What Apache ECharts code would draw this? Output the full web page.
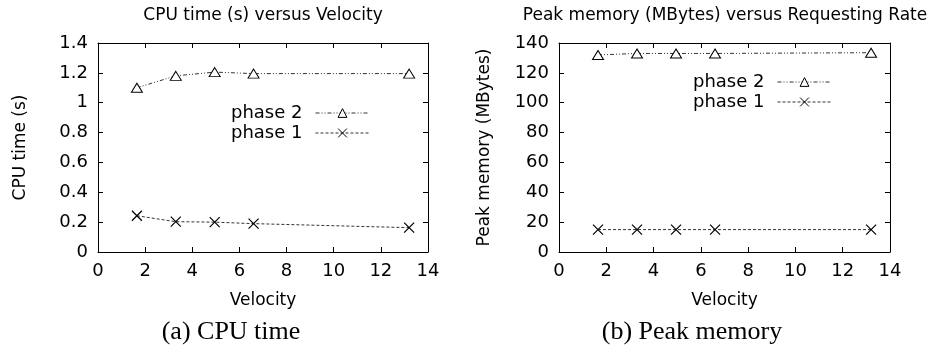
<!DOCTYPE html>
<html><head><meta charset="utf-8">
<script src="https://cdn.jsdelivr.net/npm/echarts@6/dist/echarts.min.js"></script>
<style>html,body{margin:0;padding:0;background:#fff}#c{width:931px;height:347px}</style>
</head><body><div id="c"></div>
<script>
const velocity = [1.65, 3.3, 4.95, 6.6, 13.2];
const cpuPhase2 = [1.10, 1.18, 1.205, 1.195, 1.195];
const cpuPhase1 = [0.243, 0.203, 0.200, 0.190, 0.163];
const memPhase2 = [132, 133, 133, 133, 133.5];
const memPhase1 = [15, 15, 15, 15, 15];
const seriesNames = ['phase 2', 'phase 1'];
const titles = ['CPU time (s) versus Velocity', 'Peak memory (MBytes) versus Requesting Rate'];
const captions = ['(a) CPU time', '(b) Peak memory'];
const xName = 'Velocity';
const yNames = ['CPU time (s)', 'Peak memory (MBytes)'];

const SANS = 'DejaVu Sans';
const FS = 18;
const FN = 17;
const xMark = 'path://M0 0L10 10M10 0L0 10';

function pairs(xs, ys){ return xs.map((x,i)=>[x, ys[i]]); }

function xAxes(g){
  return [
    {type:'value', gridIndex:g, min:0, max:14, interval:2, position:'bottom',
     name:xName, nameLocation:'middle', nameGap:40, nameTextStyle:{fontFamily:SANS,fontSize:FN,color:'#000'},
     axisLine:{show:true,lineStyle:{color:'#000',width:1}}, axisTick:{inside:true,length:5,lineStyle:{color:'#000'}},
     axisLabel:{fontFamily:SANS,fontSize:FS,color:'#000',margin:10}, splitLine:{show:false}},
    {type:'value', gridIndex:g, min:0, max:14, interval:2, position:'top',
     axisLine:{show:true,onZero:false,lineStyle:{color:'#000',width:1}}, axisTick:{inside:true,length:5,lineStyle:{color:'#000'}},
     axisLabel:{show:false}, splitLine:{show:false}}
  ];
}
function yAxes(g, max, interval, name, gap){
  return [
    {type:'value', gridIndex:g, min:0, max:max, interval:interval, position:'left',
     name:name, nameLocation:'middle', nameGap:gap, nameTextStyle:{fontFamily:SANS,fontSize:FN,color:'#000'},
     axisLine:{show:true,lineStyle:{color:'#000',width:1}}, axisTick:{show:true,inside:true,length:5,lineStyle:{color:'#000'}},
     axisLabel:{fontFamily:SANS,fontSize:FS,color:'#000',margin:10}, splitLine:{show:false}},
    {type:'value', gridIndex:g, min:0, max:max, interval:interval, position:'right',
     axisLine:{show:true,onZero:false,lineStyle:{color:'#000',width:1}}, axisTick:{show:true,inside:true,length:5,lineStyle:{color:'#000'}},
     axisLabel:{show:false}, splitLine:{show:false}}
  ];
}
function p2(name, xi, yi, data){
  return {type:'line', name:name, xAxisIndex:xi, yAxisIndex:yi, data:data,
    symbol:'triangle', symbolSize:[11,9],
    itemStyle:{color:'#fff', borderColor:'#000', borderWidth:1},
    lineStyle:{color:'#333', width:1, type:[4,2,1,2,1,2]}, animation:false};
}
function p1(name, xi, yi, data){
  return {type:'line', name:name, xAxisIndex:xi, yAxisIndex:yi, data:data,
    symbol:xMark, symbolSize:10, symbolKeepAspect:true,
    itemStyle:{color:'#000', borderColor:'#000', borderWidth:1.2},
    lineStyle:{color:'#333', width:1, type:[3,2]}, animation:false};
}
function legend(right, top){
  return {orient:'vertical', right:right, top:top, align:'right', itemWidth:54, itemHeight:11, itemGap:2,
    data:seriesNames, selectedMode:false, padding:0,
    itemStyle:{color:'#fff', borderColor:'#000', borderWidth:1},
    lineStyle:{width:1},
    textStyle:{fontFamily:SANS,fontSize:FS,color:'#000',padding:[0,8,0,0]}};
}
function txt(x,y,t,font,size){
  return {type:'text', x:x, y:y, style:{text:t, fontFamily:font, fontSize:size, fill:'#000', textAlign:'center', textVerticalAlign:'middle'}};
}

const chart = echarts.init(document.getElementById('c'), null, {renderer:'canvas'});
chart.setOption({
  animation:false,
  grid:[
    {left:98, right:503, top:43, bottom:95},
    {left:559, right:41, top:43, bottom:95}
  ],
  xAxis:[...xAxes(0), ...xAxes(1)],
  yAxis:[...yAxes(0, 1.4, 0.2, yNames[0], 69), ...yAxes(1, 140, 20, yNames[1], 66)],
  legend:[legend(561, 104), legend(99, 73)],
  series:[
    p2(seriesNames[0], 0, 0, pairs(velocity, cpuPhase2)),
    p1(seriesNames[1], 0, 0, pairs(velocity, cpuPhase1)),
    p2(seriesNames[0], 2, 2, pairs(velocity, memPhase2)),
    p1(seriesNames[1], 2, 2, pairs(velocity, memPhase1))
  ],
  graphic:[
    txt(263, 16, titles[0], SANS, FN),
    txt(725, 16, titles[1], SANS, FN),
    txt(231, 332, captions[0], 'Liberation Serif', 26),
    txt(692, 332, captions[1], 'Liberation Serif', 26)
  ]
});
</script></body></html>
